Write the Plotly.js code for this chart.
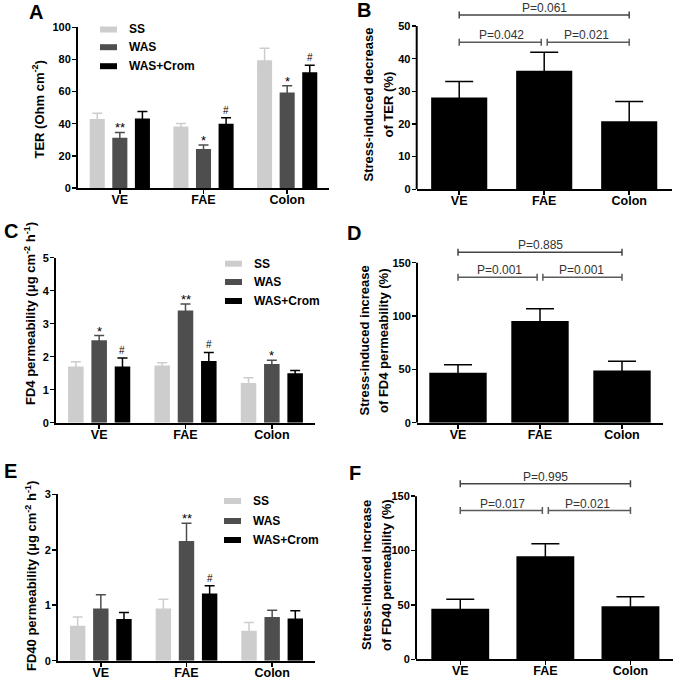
<!DOCTYPE html>
<html><head><meta charset="utf-8">
<script src="https://cdn.plot.ly/plotly-3.0.1.min.js"></script>
<style>html,body{margin:0;padding:0;background:#fff}#chart{width:675px;height:680px}</style>
</head><body><div id="chart"></div>
<script>
// ---------- data ----------
const categories = ['VE', 'FAE', 'Colon'];
const groupNames = ['SS', 'WAS', 'WAS+Crom'];
const noSig = ['', '', ''];

// A: TER (Ohm cm-2)
const terSS = [43.0, 38.2, 79.5];      const terSSerr = [3.5, 2.0, 7.5];
const terWAS = [31.3, 24.2, 59.4];     const terWASerr = [3.3, 2.5, 4.3];
const terCrom = [43.3, 40.0, 72.0];    const terCromErr = [4.3, 3.7, 4.4];
const terWASsig = ['**', '*', '*'];    const terCromSig = ['', '#', '#'];
const terTicks = [0, 20, 40, 60, 80, 100];

// B: stress-induced decrease of TER (%)
const terDec = [28.1, 36.3, 20.8];     const terDecErr = [4.9, 5.7, 6.1];
const terDecP = ['P=0.061', 'P=0.042', 'P=0.021'];
const terDecPLevel = [53.4, 45.0, 45.0];
const terDecTicks = [0, 10, 20, 30, 40, 50];

// C: FD4 permeability
const fd4SS = [1.70, 1.73, 1.20];      const fd4SSerr = [0.15, 0.09, 0.16];
const fd4WAS = [2.50, 3.40, 1.78];     const fd4WASerr = [0.14, 0.20, 0.11];
const fd4Crom = [1.70, 1.87, 1.50];    const fd4CromErr = [0.26, 0.26, 0.08];
const fd4WASsig = ['*', '**', '*'];    const fd4CromSig = ['#', '#', ''];
const fd4Ticks = [0, 1, 2, 3, 4, 5];

// D: stress-induced increase of FD4 permeability (%)
const fd4Inc = [46.9, 95.3, 49.0];     const fd4IncErr = [7.5, 11.6, 8.5];
const fd4IncP = ['P=0.885', 'P=0.001', 'P=0.001'];
const fd4IncPLevel = [159.7, 136.3, 136.3];
const incTicks = [0, 50, 100, 150];

// E: FD40 permeability
const fd40SS = [0.63, 0.94, 0.54];     const fd40SSerr = [0.16, 0.17, 0.15];
const fd40WAS = [0.94, 2.16, 0.79];    const fd40WASerr = [0.25, 0.32, 0.12];
const fd40Crom = [0.75, 1.21, 0.76];   const fd40CromErr = [0.12, 0.14, 0.14];
const fd40WASsig = ['', '**', ''];     const fd40CromSig = ['', '#', ''];
const fd40Ticks = [0, 1, 2, 3];

// F: stress-induced increase of FD40 permeability (%)
const fd40Inc = [46.4, 94.7, 48.9];    const fd40IncErr = [8.9, 11.7, 8.6];
const fd40IncP = ['P=0.995', 'P=0.017', 'P=0.021'];
const fd40IncPLevel = [161.4, 136.8, 136.8];

// comparison pairs (category indices)
const pairLeft = [0, 0, 1];
const pairRight = [2, 1, 2];

// ---------- helpers ----------
const W = 675, H = 680;
const fx = v => v / W;
const fy = v => 1 - v / H;
const FONT = '"Liberation Sans", Arial, Helvetica, sans-serif';
const groupColors = ['#cdcdcd', '#4e4e4e', '#000000'];
const BAR_W = 0.18, SLOT = 0.27;

const traces = [], shapes = [], annotations = [];
const layout = {
  width: W, height: H, margin: {l: 0, r: 0, t: 0, b: 0},
  paper_bgcolor: '#ffffff', plot_bgcolor: 'rgba(0,0,0,0)',
  showlegend: false, barmode: 'overlay',
  font: {family: FONT, color: '#000'}
};

function xAxis(dom) {
  return {domain: [fx(dom[0]), fx(dom[1])], range: [-0.5, 2.5], type: 'category',
    showline: true, linecolor: '#000', linewidth: 2, ticks: 'outside', ticklen: 4,
    tickwidth: 1.5, tickcolor: '#000', showgrid: false, zeroline: false, fixedrange: true,
    ticklabelstandoff: -5,
    tickfont: {family: FONT, size: 12.5, weight: 'bold', color: '#000'}};
}
function yAxis(dom, range, tickvals, showline) {
  return {domain: [fy(dom[1]), fy(dom[0])], range: range, tickmode: 'array', tickvals: tickvals,
    showline: showline, linecolor: '#000', linewidth: 2, ticks: 'outside', ticklen: 4,
    tickwidth: 1.5, tickcolor: '#000', showgrid: false, zeroline: false, fixedrange: true,
    ticklabelstandoff: -1,
    tickfont: {family: FONT, size: 11, weight: 'bold', color: '#000'}};
}
function axIds(n) { return n === 1 ? ['x', 'y', 'xaxis', 'yaxis'] : ['x' + n, 'y' + n, 'xaxis' + n, 'yaxis' + n]; }

function titleText(text, cx, cy) {
  annotations.push({text: text, xref: 'paper', yref: 'paper', x: fx(cx), y: fy(cy),
    xanchor: 'center', yanchor: 'middle', textangle: -90, showarrow: false,
    font: {family: FONT, size: 13, weight: 'bold', color: '#000'}});
}
function panelLetter(t, x, cy) {
  annotations.push({text: t, xref: 'paper', yref: 'paper', x: fx(x), y: fy(cy),
    xanchor: 'left', yanchor: 'middle', showarrow: false,
    font: {family: FONT, size: 20, weight: 'bold', color: '#000'}});
}

function groupedPanel(n, xd, yd, yr, ticks, vals, errs, sigs, legendX, legendY) {
  const [xa, ya, xk, yk] = axIds(n);
  layout[xk] = Object.assign(xAxis(xd), {anchor: ya});
  layout[yk] = Object.assign(yAxis(yd, yr, ticks, true), {anchor: xa});
  for (let k = 0; k < 3; k++) {
    traces.push({type: 'bar', x: categories, y: vals[k], name: groupNames[k], xaxis: xa, yaxis: ya,
      width: BAR_W, offset: (k - 1) * SLOT - BAR_W / 2,
      marker: {color: groupColors[k], line: {width: 0}},
      error_y: {type: 'data', array: errs[k], visible: true, color: groupColors[k], thickness: 1.5, width: 5}});
    for (let i = 0; i < categories.length; i++) {
      const s = sigs[k][i];
      if (!s) continue;
      annotations.push({text: s, xref: xa, yref: ya, x: i + (k - 1) * SLOT, y: vals[k][i] + errs[k][i],
        xanchor: 'center', yanchor: 'bottom', showarrow: false, yshift: s.indexOf('*') >= 0 ? -5 : 0,
        font: {family: FONT, size: s.indexOf('*') >= 0 ? 13 : 10, color: '#000'}});
    }
    // legend entry
    const cy = legendY[k];
    shapes.push({type: 'rect', xref: 'paper', yref: 'paper', x0: fx(legendX), x1: fx(legendX + 17),
      y0: fy(cy + 3), y1: fy(cy - 3), fillcolor: groupColors[k], line: {width: 0}});
    annotations.push({text: groupNames[k], xref: 'paper', yref: 'paper', x: fx(legendX + 27), y: fy(cy),
      xanchor: 'left', yanchor: 'middle', showarrow: false,
      font: {family: FONT, size: 12, weight: 'bold', color: '#000'}});
  }
}

function singlePanel(n, xd, xr, yd, yMax, ticks, vals, errs, pLabels, pLevels, barW) {
  const [xa, ya, xk, yk] = axIds(n);
  layout[xk] = Object.assign(xAxis(xd), {anchor: ya, range: xr});
  layout[yk] = Object.assign(yAxis(yd, [0, yMax], ticks, false), {anchor: xa});
  traces.push({type: 'bar', x: categories, y: vals, xaxis: xa, yaxis: ya, width: barW,
    marker: {color: '#000', line: {width: 0}},
    error_y: {type: 'data', array: errs, visible: true, color: '#000', thickness: 1.5, width: 14}});
  // y axis line only up to the top tick
  shapes.push({type: 'line', xref: xa + ' domain', yref: ya, x0: 0, x1: 0, y0: 0, y1: ticks[ticks.length - 1],
    line: {color: '#000', width: 2}});
  for (let j = 0; j < pLabels.length; j++) {
    const l = pairLeft[j], r = pairRight[j];
    const x0 = l + (l === 1 ? 0.035 : 0), x1 = r - (r === 1 ? 0.035 : 0);
    const col = j === 0 ? '#444' : '#5a5a5a';
    shapes.push({type: 'line', xref: xa, yref: ya, x0: x0, x1: x1, y0: pLevels[j], y1: pLevels[j], line: {color: col, width: 1.5}});
    [x0, x1].forEach(xe => shapes.push({type: 'line', xref: xa, yref: ya, ysizemode: 'pixel', yanchor: pLevels[j],
      x0: xe, x1: xe, y0: -3.5, y1: 3.5, line: {color: col, width: 1.5}}));
    annotations.push({text: pLabels[j], xref: xa, yref: ya, x: (l + r) / 2, y: pLevels[j], yshift: -2,
      xanchor: 'center', yanchor: 'bottom', showarrow: false,
      font: {family: FONT, size: 12, color: '#333'}});
  }
}

// ---------- panels ----------
groupedPanel(1, [78, 329], [27.3, 188], [0, 100], terTicks,
  [terSS, terWAS, terCrom], [terSSerr, terWASerr, terCromErr], [noSig, terWASsig, terCromSig], 100, [29.5, 47.2, 66.2]);
singlePanel(2, [416.7, 671.7], [-0.5, 2.5], [2, 189.3], 57.35, terDecTicks, terDec, terDecErr, terDecP, terDecPLevel, 0.66);
groupedPanel(3, [56, 315], [257.7, 422.7], [0, 5], fd4Ticks,
  [fd4SS, fd4WAS, fd4Crom], [fd4SSerr, fd4WASerr, fd4CromErr], [noSig, fd4WASsig, fd4CromSig], 225, [263.7, 282, 301]);
singlePanel(4, [417, 663], [-0.5, 2.5], [236, 422.7], 175, incTicks, fd4Inc, fd4IncErr, fd4IncP, fd4IncPLevel, 0.7);
groupedPanel(5, [58, 315], [494.3, 660.7], [0, 3], fd40Ticks,
  [fd40SS, fd40WAS, fd40Crom], [fd40SSerr, fd40WASerr, fd40CromErr], [noSig, fd40WASsig, fd40CromSig], 224, [501, 521, 540]);
singlePanel(6, [416, 673], [-0.52, 2.5], [472, 659.3], 172.3, incTicks, fd40Inc, fd40IncErr, fd40IncP, fd40IncPLevel, 0.68);

// axis titles
titleText('TER (Ohm cm<sup>-2</sup>)', 39, 109.5);
titleText('Stress-induced decrease', 368, 104.5);
titleText('of TER (%)', 388, 104.5);
titleText('FD4 permeability (μg cm<sup>-2</sup> h<sup>-1</sup>)', 30, 314);
titleText('Stress-induced increase', 363.5, 341);
titleText('of FD4 permeability (%)', 383, 341);
titleText('FD40 permeability (μg cm<sup>-2</sup> h<sup>-1</sup>)', 31, 576);
titleText('Stress-induced increase', 366, 575);
titleText('of FD40 permeability (%)', 386, 575);

// panel letters
panelLetter('A', 27, 11.7);
panelLetter('B', 355, 10);
panelLetter('C', 2, 230.5);
panelLetter('D', 345, 232.5);
panelLetter('E', 2, 470.5);
panelLetter('F', 347, 472.5);

layout.shapes = shapes;
layout.annotations = annotations;
Plotly.newPlot('chart', traces, layout, {staticPlot: true, displayModeBar: false});
</script></body></html>
